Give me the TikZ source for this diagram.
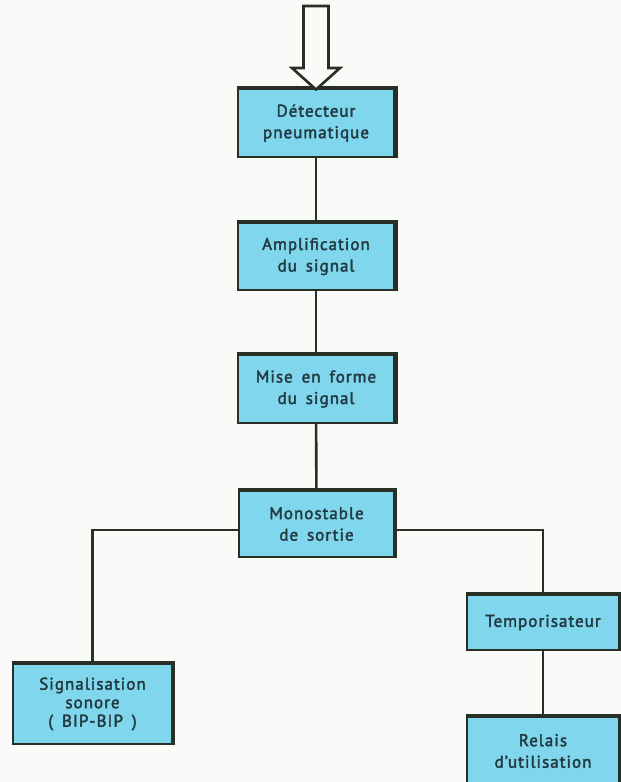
\documentclass[tikz,border=0pt]{standalone}
\usepackage{fontspec}
\setmainfont{PT Sans}[LetterSpace=6,FakeBold=2.2,WordSpace=1.6]
\usetikzlibrary{calc}
\definecolor{bg}{RGB}{250,250,249}
\definecolor{boxfill}{RGB}{128,214,236}
\definecolor{edge}{RGB}{40,48,38}
\definecolor{txt}{RGB}{34,58,66}
\tikzset{
  blk/.style={draw=edge, line width=2pt, fill=boxfill, inner sep=0pt,
    align=center, text=txt, font=\fontsize{17}{21.5}\selectfont},
  wire/.style={draw=edge, line width=2.6pt},
  hollow/.style={draw=edge, line width=2.6pt, fill=bg, line join=miter}
}
\begin{document}
\begin{tikzpicture}[x=1pt,y=-1pt]
\fill[bg] (0,0) rectangle (621,782);
\useasboundingbox (0,0) rectangle (621,782);
\clip (0,0) rectangle (621,782);
% nodes
\node[blk, minimum width=157pt, minimum height=68pt] (det) at (316,123) {Détecteur\\pneumatique};
\node[blk, minimum width=157pt, minimum height=67pt] (amp) at (316,256.5) {Amplification\\du signal};
\node[blk, minimum width=157pt, minimum height=68pt] (mise) at (316,389) {Mise en forme\\du signal};
\node[blk, minimum width=155pt, minimum height=66pt] (mono) at (316.5,524) {Monostable\\de sortie};
\node[blk, minimum width=159pt, minimum height=80pt, font=\fontsize{17}{18.5}\selectfont] (sig) at (92.5,704) {Signalisation\\sonore\\( BIP-BIP )};
\node[blk, minimum width=152pt, minimum height=55pt] (temp) at (543,622.5) {Temporisateur};
\node[blk, minimum width=152pt, minimum height=68pt] (rel) at (543,751) {Relais\\d'utilisation};
% thick top and right edges
\foreach \n in {det,amp,mise,mono,sig,temp,rel}{
  \draw[edge, line width=4.5pt, line join=miter] (\n.north west) -- (\n.north east) -- (\n.south east);
}
% connectors
\draw[wire] (det) -- (amp);
\draw[wire] (amp) -- (mise);
\draw[wire] (mise) -- (mono);
\draw[wire] ([yshift=-6pt]mono.west) -| (sig.north);
\draw[wire] ([yshift=-6pt]mono.east) -| (temp.north);
\draw[wire] (temp) -- (rel);
% hollow input arrow
\draw[hollow] ([xshift=-12.5pt]det.north |- 0,6) -- ([xshift=12.5pt]det.north |- 0,6)
  -- ([xshift=12.5pt]det.north |- 0,68) -- ([xshift=24pt]det.north |- 0,68)
  -- ([yshift=-1.5pt]det.north) -- ([xshift=-24pt]det.north |- 0,68)
  -- ([xshift=-12.5pt]det.north |- 0,68) -- cycle;
\end{tikzpicture}
\end{document}
